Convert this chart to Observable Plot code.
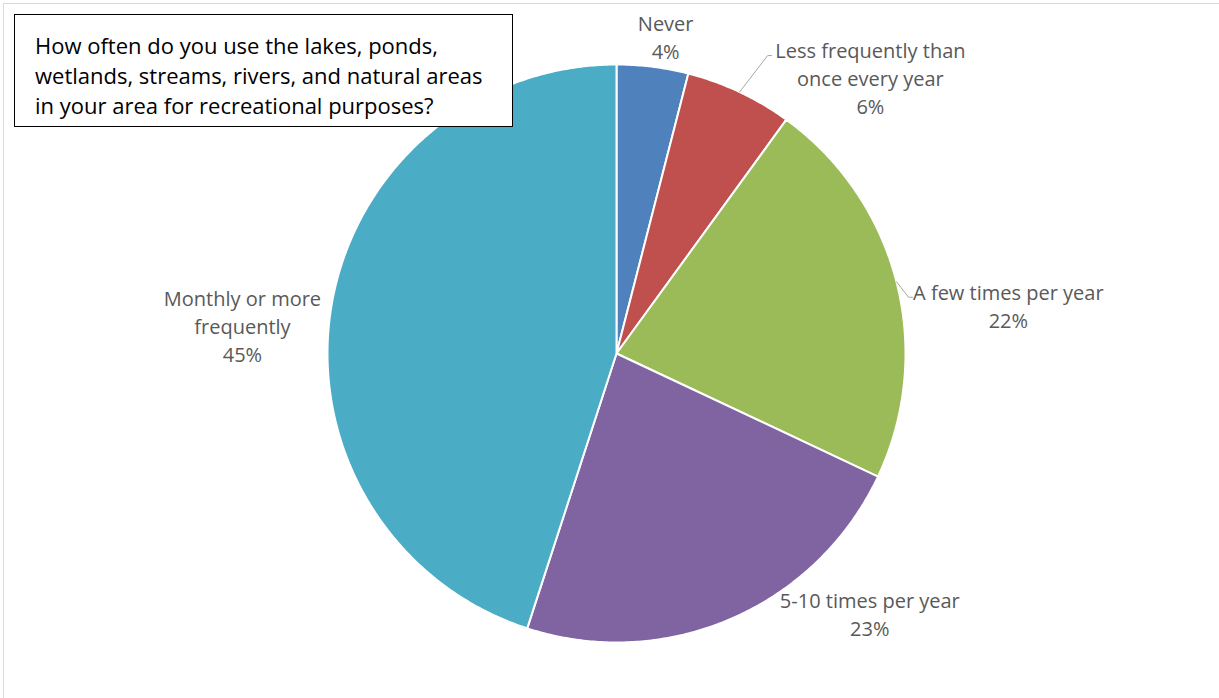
<!DOCTYPE html>
<html><head><meta charset="utf-8">
<script src="https://cdn.jsdelivr.net/npm/d3@7"></script>
<script src="https://cdn.jsdelivr.net/npm/@observablehq/plot@0.6"></script>
<style>
html,body{margin:0;padding:0;background:#fff;}
#wrap{position:relative;width:1219px;height:698px;overflow:hidden;font-family:"Open Sans",sans-serif;}
#edge{position:absolute;left:3px;top:3px;width:1300px;height:800px;border-top:1px solid #d9d9d9;border-left:1px solid #d9d9d9;}
#chart{position:absolute;left:0;top:0;}
#q{position:absolute;left:14px;top:14px;width:499px;height:113px;box-sizing:border-box;border:1px solid #000;background:#fff;font-size:22px;line-height:30px;padding:15px 0 0 20px;color:#000;white-space:nowrap;}
</style></head><body>
<div id="wrap"><div id="edge"></div><div id="chart"></div>
<div id="q">How often do you use the lakes, ponds,<br>wetlands, streams, rivers, and natural areas<br>in your area for recreational purposes?</div></div>
<script>
// ---- data ----
const categories = ["Never", "Less frequently than once every year", "A few times per year", "5-10 times per year", "Monthly or more frequently"];
const shares = [4, 6, 22, 23, 45];
const labelNames = ["Never", "Less frequently than\nonce every year", "A few times per year", "5-10 times per year", "Monthly or more\nfrequently"];
const colors = ["#4F81BD", "#C0504D", "#9BBB59", "#8064A2", "#4BACC6"];

// ---- layout (not data) ----
const W = 1219, H = 698, CX = 616, CY = 353, R = 289;
// label centre: [angle deg clockwise from north, radius factor]
const labelPolar = [[8.8, 1.112], [42.6, 1.298], [83.0, 1.366], [135.7, 1.255], [274.3, 1.298]];
// leader elbow [angle deg, radius factor] or null
const leaderElbow = [null, [26.9, 1.156], null, null, null];
const leaderElbow2 = [null, null, [79.1, 1.029], null, null];

const arcs = d3.pie().sort(null).value(d => d)(shares);
const pt = (a, r) => [r * Math.sin(a), r * Math.cos(a)];

const slicePts = [];
arcs.forEach((a, i) => {
  const n = Math.max(2, Math.ceil((a.endAngle - a.startAngle) / (Math.PI / 360)));
  slicePts.push({cat: categories[i], x: 0, y: 0});
  for (let k = 0; k <= n; k++) {
    const t = a.startAngle + (a.endAngle - a.startAngle) * k / n;
    const [x, y] = pt(t, 1);
    slicePts.push({cat: categories[i], x, y});
  }
  slicePts.push({cat: categories[i], x: 0, y: 0});
});

const labels = arcs.map((a, i) => {
  const [ang, rf] = labelPolar[i];
  const [x, y] = pt(ang * Math.PI / 180, rf);
  return {x, y, text: labelNames[i] + "\n" + shares[i] + "%"};
});

const leaders = [];
arcs.forEach((a, i) => {
  const el = leaderElbow[i] || leaderElbow2[i];
  if (!el) return;
  const mid = (a.startAngle + a.endAngle) / 2;
  const [x0, y0] = pt(mid, 1);
  const [x1, y1] = pt(el[0] * Math.PI / 180, el[1]);
  const hx = 4 / R;
  leaders.push({id: i, x: x0, y: y0}, {id: i, x: x1, y: y1}, {id: i, x: x1 + hx, y: y1});
});

const chart = Plot.plot({
  width: W, height: H,
  margin: 0,
  x: {domain: [-1, 1], range: [CX - R, CX + R], axis: null},
  y: {domain: [-1, 1], range: [CY + R, CY - R], axis: null},
  color: {domain: categories, range: colors},
  style: {background: "transparent", fontFamily: "'Open Sans', sans-serif"},
  marks: [
    Plot.line(slicePts, {x: "x", y: "y", z: "cat", fill: "cat", stroke: "#fff", strokeWidth: 2, strokeLinejoin: "round", curve: "linear"}),
    Plot.line(leaders, {x: "x", y: "y", z: "id", stroke: "#a6a6a6", strokeWidth: 1}),
    Plot.text(labels, {x: "x", y: "y", text: "text", fill: "#595959", fontSize: 20, lineHeight: 1.4, textAnchor: "middle", lineAnchor: "middle"})
  ]
});
document.getElementById("chart").appendChild(chart);
</script>
</body></html>
